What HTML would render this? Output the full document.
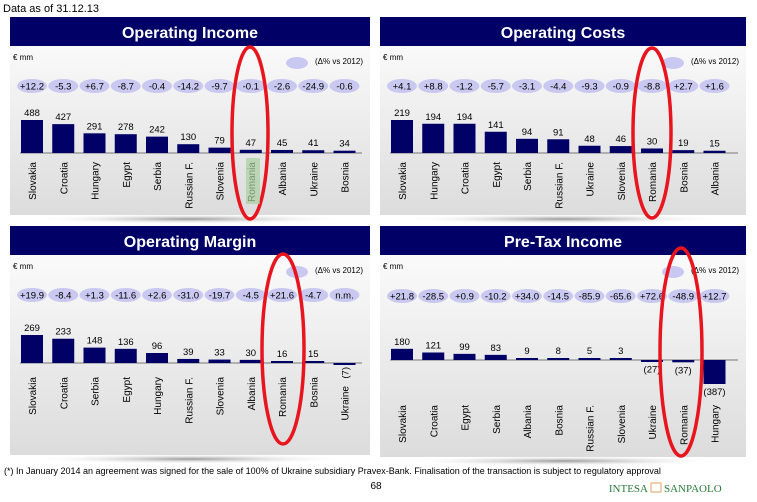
<!DOCTYPE html>
<html><head><meta charset="utf-8">
<style>
body{margin:0;background:#fff;width:757px;height:502px;overflow:hidden;font-family:"Liberation Sans",sans-serif}
svg{display:block}
</style></head>
<body>
<svg id="s" width="757" height="502" viewBox="0 0 757 502" font-family="Liberation Sans, sans-serif">
<defs>
<linearGradient id="bg" x1="0" y1="0" x2="0" y2="1"><stop offset="0" stop-color="#ffffff"/><stop offset="1" stop-color="#dcdcdc"/></linearGradient>
<radialGradient id="sh" cx="0.5" cy="0.5" r="0.5"><stop offset="0" stop-color="#999"/><stop offset="1" stop-color="#fff" stop-opacity="0"/></radialGradient>
</defs>
<text x="3" y="12" font-size="11" fill="#000">Data as of 31.12.13</text>
<text x="4" y="474" font-size="9" fill="#000">(*) In January 2014 an agreement was signed for the sale of 100% of Ukraine subsidiary Pravex-Bank. Finalisation of the transaction is subject to regulatory approval</text>
<text x="376" y="489" font-size="10" text-anchor="middle" fill="#000">68</text>
<g>
<text x="648" y="492" font-size="11" font-family="Liberation Serif, serif" fill="#2a7a3a" text-anchor="end">INTESA</text>
<rect x="651" y="483" width="10" height="9" fill="#fff" stroke="#e0a060"/>
<text x="664" y="492" font-size="11" font-family="Liberation Serif, serif" fill="#2a7a3a">SANPAOLO</text>
</g>
</svg>
<script>
const s=document.getElementById('s');
const NS='http://www.w3.org/2000/svg';
function el(t,a,p){const e=document.createElementNS(NS,t);for(const k in a)e.setAttribute(k,a[k]);(p||s).appendChild(e);return e;}

// Operating Income
const oiCats=["Slovakia","Croatia","Hungary","Egypt","Serbia","Russian F.","Slovenia","Romania","Albania","Ukraine","Bosnia"];
const oiVals=[488,427,291,278,242,130,79,47,45,41,34];
const oiDelta=["+12.2","-5.3","+6.7","-8.7","-0.4","-14.2","-9.7","-0.1","-2.6","-24.9","-0.6"];
// Operating Costs
const ocCats=["Slovakia","Hungary","Croatia","Egypt","Serbia","Russian F.","Ukraine","Slovenia","Romania","Bosnia","Albania"];
const ocVals=[219,194,194,141,94,91,48,46,30,19,15];
const ocDelta=["+4.1","+8.8","-1.2","-5.7","-3.1","-4.4","-9.3","-0.9","-8.8","+2.7","+1.6"];
// Operating Margin
const omCats=["Slovakia","Croatia","Serbia","Egypt","Hungary","Russian F.","Slovenia","Albania","Romania","Bosnia","Ukraine"];
const omVals=[269,233,148,136,96,39,33,30,16,15,-7];
const omDelta=["+19.9","-8.4","+1.3","-11.6","+2.6","-31.0","-19.7","-4.5","+21.6","-4.7","n.m."];
// Pre-Tax Income
const ptCats=["Slovakia","Croatia","Egypt","Serbia","Albania","Bosnia","Russian F.","Slovenia","Ukraine","Romania","Hungary"];
const ptVals=[180,121,99,83,9,8,5,3,-27,-37,-387];
const ptDelta=["+21.8","-28.5","+0.9","-10.2","+34.0","-14.5","-85.9","-65.6","+72.6","-48.9","+12.7"];

function panel(o){
  const g=el('g',{});
  
  
  el('ellipse',{cx:o.x+o.w/2,cy:o.bot+4,rx:o.w/2-20,ry:5,fill:'url(#sh)'},g);
  const body=el('rect',{x:o.x,y:o.top,width:o.w,height:o.bot-o.top,fill:'url(#bg)'},g);
  
  
  const bar=el('rect',{x:o.x,y:o.top,width:o.w,height:29,fill:'#000066'},g);
  
  
  const t=el('text',{x:o.x+o.w/2,y:o.top+21,'font-size':16,'font-weight':'bold',fill:'#fff','text-anchor':'middle'},g);
  t.textContent=o.title;
  
  
  const u=el('text',{x:o.x+3,y:o.top+43,'font-size':8,fill:'#000'},g);
  u.textContent='€ mm';
  
  
  const le=el('ellipse',{cx:o.x+o.w-73,cy:o.top+46,rx:11,ry:6,fill:'#c8c8f0'},g);
  
  
  const lt=el('text',{x:o.x+o.w-7,y:o.top+47,'font-size':8,fill:'#000','text-anchor':'end'},g);
  lt.textContent='(Δ% vs 2012)';
  
  
  const x0=o.x+o.x0off, step=31.25;
  const X=i=>x0+i*step;
  const Y=v=>o.base-v*o.scale;
  el('line',{x1:o.x+10,x2:o.x+o.w-8,y1:o.base,y2:o.base,stroke:'#777','stroke-width':1},g);
  o.cats.forEach((c,i)=>{
    const v=o.vals[i];
    const p=el('ellipse',{cx:X(i),cy:o.pill,rx:15,ry:7,fill:'#c8c8f0'},g);
    
    
    const pt=el('text',{x:X(i),y:o.pill+3.5,'font-size':9.5,fill:'#000','text-anchor':'middle'},g);
    pt.textContent=o.delta[i];
    
    
    const hAbs=Math.abs(Y(v)-o.base), h=Math.max(hAbs,2);
    const r=el('rect',{x:X(i)-11,y:v<0?o.base:o.base-h,width:22,height:h,fill:'#000066'},g);
    
    
    const vt=el('text',{x:X(i),'font-size':9.5,fill:'#000','text-anchor':'middle'},g);
    let shift=0;
    if(v>=0){vt.setAttribute('y',o.base-h-4);vt.textContent=v;}
    else{vt.setAttribute('y',o.base+hAbs+11);vt.textContent='('+(-v)+')';}
    if(o.negLabelSide && v<0 && Math.abs(v)<10){
      vt.setAttribute('x',X(i)+4);vt.setAttribute('y',o.base+4);vt.setAttribute('text-anchor','end');
      vt.setAttribute('transform','rotate(-90 '+(X(i)+4)+' '+(o.base+4)+')');
      shift=9;
    }
    
    
    const ly=o.lab+shift;
    const ct=el('text',{x:X(i)+4,y:ly,'font-size':10,fill:'#000','text-anchor':'end',transform:'rotate(-90 '+(X(i)+4)+' '+ly+')'},g);
    ct.textContent=c;
    
    
  });
  const re=el('ellipse',{cx:o.ex,cy:o.ey,rx:o.erx,ry:o.ery,fill:'none',stroke:'#e8141e','stroke-width':3.5},g);
  
  
}
panel({name:'operating-income-panel',title:'Operating Income',x:10,w:360,top:17,bot:215,base:153,pill:86,lab:162,scale:33/488,x0off:22,cats:oiCats,vals:oiVals,delta:oiDelta,ex:250,ey:133,erx:18,ery:86});
panel({name:'operating-costs-panel',title:'Operating Costs',x:380,w:366,top:17,bot:215,base:153,pill:86,lab:162,scale:33/219,x0off:22,cats:ocCats,vals:ocVals,delta:ocDelta,ex:652,ey:133,erx:19,ery:85});
panel({name:'operating-margin-panel',title:'Operating Margin',x:10,w:360,top:226,bot:455,base:363,pill:295,lab:377,scale:28/269,x0off:22,cats:omCats,vals:omVals,delta:omDelta,negLabelSide:true,ex:283,ey:349,erx:21,ery:95});
panel({name:'pre-tax-income-panel',title:'Pre-Tax Income',x:380,w:366,top:226,bot:457,base:360,pill:296,lab:405,scale:24/387,x0off:22,cats:ptCats,vals:ptVals,delta:ptDelta,ex:681,ey:352,erx:21,ery:104});
const hr=el('rect',{x:246,y:158,width:14,height:46,fill:'#a8d0a0',opacity:0.7});


s.insertBefore(hr,s.querySelectorAll('g')[1].nextSibling);
</script>
</body></html>
